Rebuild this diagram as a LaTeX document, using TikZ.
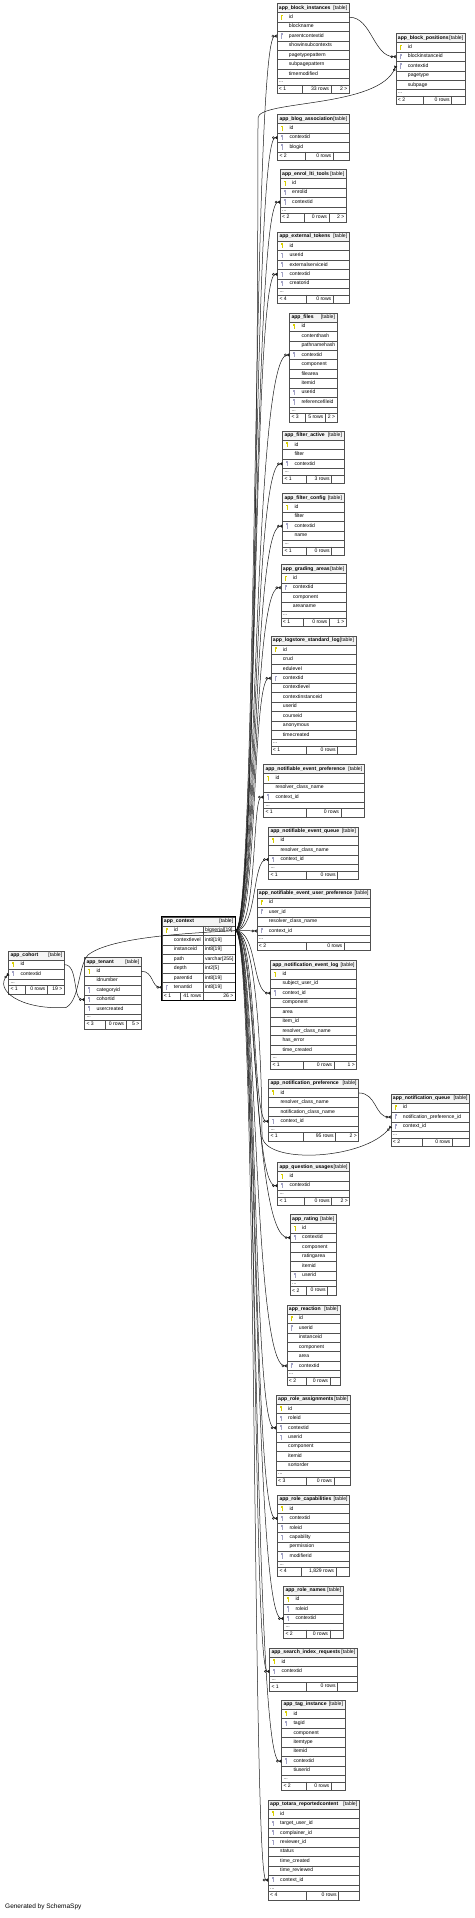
\documentclass[tikz,border=0pt]{standalone}
\usepackage{fontspec}
\setmainfont{Liberation Sans}
\usetikzlibrary{arrows.meta,positioning,calc}

\definecolor{dbLine}{HTML}{505050}
\definecolor{dbHead}{HTML}{F4F4F4}
\definecolor{dbPK}{HTML}{D9CF00}
\definecolor{dbFK}{HTML}{A3A3C6}
\definecolor{dbEdge}{HTML}{1A1A1A}

\newcommand\dbfont{\fontsize{5.1}{6}\selectfont}

\tikzset{
  dbcell/.style={draw=dbLine, line width=0.45pt, anchor=north west, inner xsep=2pt, inner ysep=0pt,
    minimum width=\dbw, font=\dbfont, text height=3.6pt, text depth=1.1pt},
  dbhead/.style={dbcell, fill=dbHead, minimum height=9pt},
  dbrow/.style={dbcell, fill=white, minimum height=9.44pt},
  dbmore/.style={dbcell, fill=white, minimum height=6.5pt, text height=2pt, text depth=0pt},
  dbfoot/.style={dbcell, fill=white, minimum height=8.5pt},
  dbsep/.style={draw=dbLine, line width=0.45pt},
  foottext/.style={font=\dbfont, inner sep=0pt, text height=3.6pt, text depth=1.1pt},
  keyfill/.style={}, keydraw/.style={},
  keyicon/.pic={\path[keyfill] (-0.95,-2.7) rectangle (0.95,-0.9); \path[keydraw] (0,-0.9) -- (0,2.4);},
  pk/.style={keyfill/.style={fill=dbPK}, keydraw/.style={draw=dbPK, line width=0.6pt}},
  fk/.style={keyfill/.style={fill=dbFK}, keydraw/.style={draw=dbFK, line width=0.6pt}},
  nk/.style={keyfill/.style={}, keydraw/.style={}},
  fkedge/.style={draw=dbEdge, line width=0.5pt,
    -{Circle[open,length=2.6pt,width=2.6pt] Triangle[reversed,length=2.6pt,width=3.2pt]}},
  ctxlink/.style={to path={.. controls +(22,0) and (\tikztotarget -| trunk) .. (\tikztotarget)}}
}

% one table: id, x, y, width, title, columns
\newcommand\dbtable[6]{%
  \def\dbid{#1}\def\dbx{#2}\def\dby{#3}\def\dbw{#4pt}%
  \node[dbhead] (#1) at (#2,#3) {\makebox[\dimexpr#4pt-4pt\relax][s]{\textbf{\detokenize{#5}}\hfill[table]}};
  \foreach \col/\kind [count=\row] in {#6} {
    \pgfmathsetmacro\ry{#3+9+(\row-1)*9.44}
    \node[dbrow] (#1-\col) at (#2,\ry) {\makebox[\dimexpr#4pt-4pt\relax][l]{\hspace{10pt}\detokenize\expandafter{\col}}};
    \pic[\kind] at ([xshift=5pt]#1-\col.west) {keyicon};
    \xdef\dbn{\row}
  }
}
% footer: dots?, divider 1, divider 2, three texts
\newcommand\dbfoot[6]{%
  \pgfmathsetmacro\fy{\dby+9+\dbn*9.44}%
  \ifnum#1=1
    \node[dbmore] (\dbid-more) at (\dbx,\fy) {\makebox[\dimexpr\dbw-4pt\relax][l]{...}};
    \pgfmathsetmacro\fy{\fy+6.5}%
  \fi
  \node[dbfoot] (\dbid-foot) at (\dbx,\fy) {};
  \draw[dbsep] (#2,\fy) -- ++(0,8.5) (#3,\fy) -- ++(0,8.5);
  \node[foottext, anchor=west] (\dbid-f1) at ([xshift=2pt]\dbid-foot.west) {#4};
  \node[foottext, anchor=east] (\dbid-f2) at (#3-1.8,\fy+4.25) {#5};
  \node[foottext, anchor=east] (\dbid-f3) at ([xshift=-1.8pt]\dbid-foot.east) {#6};
}

\begin{document}
\begin{tikzpicture}[x=1pt, y=-1pt]
  \fill[white] (0,0) rectangle (474,1918);
  \useasboundingbox (0,0) rectangle (474,1918);
  \coordinate (trunk) at (252,0);
  \coordinate (ctxsplit) at (203.3,0);

  % child tables
  \dbtable{bi}{276.7}{3.3}{72.3}{app_block_instances}{id/pk, blockname/nk, parentcontextid/fk, showinsubcontexts/nk, pagetypepattern/nk, subpagepattern/nk, timemodified/nk}
  \dbfoot{1}{302}{331}{< 1}{33 rows}{2 >}
  \dbtable{bp}{395.7}{33.3}{69.3}{app_block_positions}{id/pk, blockinstanceid/fk, contextid/fk, pagetype/nk, subpage/nk}
  \dbfoot{1}{423.3}{451.7}{< 2}{0 rows}{}
  \dbtable{ba}{277.3}{114.3}{71.7}{app_blog_association}{id/pk, contextid/fk, blogid/fk}
  \dbfoot{0}{305.7}{333.3}{< 2}{0 rows}{}
  \dbtable{elt}{280}{169.3}{66}{app_enrol_lti_tools}{id/pk, enrolid/fk, contextid/fk}
  \dbfoot{1}{304.3}{329}{< 2}{0 rows}{2 >}
  \dbtable{et}{277.3}{232}{71.7}{app_external_tokens}{id/pk, userid/fk, externalserviceid/fk, contextid/fk, creatorid/fk}
  \dbfoot{1}{306}{333.3}{< 4}{0 rows}{}
  \dbtable{fi}{289.3}{312.7}{47.4}{app_files}{id/pk, contenthash/nk, pathnamehash/nk, contextid/fk, component/nk, filearea/nk, itemid/nk, userid/fk, referencefileid/fk}
  \dbfoot{1}{305}{325.3}{< 3}{5 rows}{2 >}
  \dbtable{fa}{282.3}{431}{61.4}{app_filter_active}{id/pk, filter/nk, contextid/fk}
  \dbfoot{1}{306}{331.7}{< 1}{3 rows}{}
  \dbtable{fc}{282.3}{493.3}{61.4}{app_filter_config}{id/pk, filter/nk, contextid/fk, name/nk}
  \dbfoot{1}{306}{331.7}{< 1}{0 rows}{}
  \dbtable{ga}{280.7}{564.3}{65.3}{app_grading_areas}{id/pk, contextid/fk, component/nk, areaname/nk}
  \dbfoot{1}{303.3}{329.3}{< 1}{0 rows}{1 >}
  \dbtable{ls}{270.7}{636}{85}{app_logstore_standard_log}{id/pk, crud/nk, edulevel/nk, contextid/fk, contextlevel/nk, contextinstanceid/nk, userid/nk, courseid/nk, anonymous/nk, timecreated/nk}
  \dbfoot{1}{306}{337.7}{< 1}{0 rows}{}
  \dbtable{nep}{263.3}{764.3}{100.7}{app_notifiable_event_preference}{id/pk, resolver_class_name/nk, context_id/fk}
  \dbfoot{1}{306}{341}{< 1}{0 rows}{}
  \dbtable{neq}{268.3}{826.7}{89.4}{app_notifiable_event_queue}{id/pk, resolver_class_name/nk, context_id/fk}
  \dbfoot{1}{306}{337.7}{< 1}{0 rows}{}
  \dbtable{neu}{256.7}{888.7}{113.6}{app_notifiable_event_user_preference}{id/pk, user_id/fk, resolver_class_name/nk, context_id/fk}
  \dbfoot{1}{306.7}{344.3}{< 2}{0 rows}{}
  \dbtable{nel}{270.3}{960.3}{86}{app_notification_event_log}{id/pk, subject_user_id/nk, context_id/fk, component/nk, area/nk, item_id/nk, resolver_class_name/nk, has_error/nk, time_created/nk}
  \dbfoot{1}{303.3}{334}{< 1}{0 rows}{1 >}
  \dbtable{np}{268.3}{1079}{90}{app_notification_preference}{id/pk, resolver_class_name/nk, notification_class_name/nk, context_id/fk}
  \dbfoot{1}{303.3}{335.7}{< 1}{95 rows}{2 >}
  \dbtable{nq}{390.7}{1093.7}{78.6}{app_notification_queue}{id/pk, notification_preference_id/fk, context_id/fk}
  \dbfoot{1}{422.7}{452.3}{< 2}{0 rows}{}
  \dbtable{qu}{277.3}{1162.3}{72}{app_question_usages}{id/pk, contextid/fk}
  \dbfoot{1}{304}{331.7}{< 1}{0 rows}{2 >}
  \dbtable{ra}{290}{1214.3}{46}{app_rating}{id/pk, contextid/fk, component/nk, ratingarea/nk, itemid/nk, userid/fk}
  \dbfoot{1}{306}{327.7}{< 2}{0 rows}{}
  \dbtable{re}{286.7}{1304.7}{53.3}{app_reaction}{id/pk, userid/fk, instanceid/nk, component/nk, area/nk, contextid/fk}
  \dbfoot{1}{306}{330}{< 2}{0 rows}{}
  \dbtable{rasg}{276}{1395}{74}{app_role_assignments}{id/pk, roleid/fk, contextid/fk, userid/fk, component/nk, itemid/nk, sortorder/nk}
  \dbfoot{1}{306}{334}{< 3}{0 rows}{}
  \dbtable{rcap}{277.3}{1495}{72}{app_role_capabilities}{id/pk, contextid/fk, roleid/fk, capability/fk, permission/nk, modifierid/fk}
  \dbfoot{1}{301}{336}{< 4}{1,829 rows}{}
  \dbtable{rn}{283.3}{1585.7}{59.7}{app_role_names}{id/pk, roleid/fk, contextid/fk}
  \dbfoot{1}{306}{330}{< 2}{0 rows}{}
  \dbtable{sir}{269.3}{1648}{87.7}{app_search_index_requests}{id/pk, contextid/fk}
  \dbfoot{1}{306}{337.7}{< 1}{0 rows}{}
  \dbtable{ti}{281.3}{1700}{63.4}{app_tag_instance}{id/pk, tagid/fk, component/nk, itemtype/nk, itemid/nk, contextid/fk, tiuserid/nk}
  \dbfoot{1}{306}{331.3}{< 2}{0 rows}{}
  \dbtable{tr}{268}{1800}{91}{app_totara_reportedcontent}{id/pk, target_user_id/fk, complainer_id/fk, reviewer_id/fk, status/nk, time_created/nk, time_reviewed/nk, context_id/fk}
  \dbfoot{1}{306}{338.7}{< 4}{0 rows}{}

  % left side
  \dbtable{coh}{8.3}{950.7}{55.7}{app_cohort}{id/pk, contextid/fk}
  \dbfoot{1}{25.7}{47.3}{< 1}{0 rows}{19 >}
  \dbtable{ten}{84.3}{957.3}{56.7}{app_tenant}{id/pk, idnumber/nk, categoryid/fk, cohortid/fk, usercreated/fk}
  \dbfoot{1}{105.3}{126}{< 3}{0 rows}{5 >}

  % the focus table
  \dbtable{ctx}{161.7}{916.7}{73.3}{app_context}{id/pk, contextlevel/nk, instanceid/nk, path/nk, depth/nk, parentid/nk, tenantid/fk}
  \dbfoot{0}{180}{203.3}{< 1}{41 rows}{26 >}
  \foreach \col/\ty in {id/bigserial[19], contextlevel/int8[19], instanceid/int8[19], path/varchar[255], depth/int2[5], parentid/int8[19], tenantid/int8[19]}
    \node[foottext, anchor=west] (ctx-\col-type) at ($(ctx-\col.west -| ctxsplit)+(1.6,0)$) {\ty};
  \draw[dbsep] (ctx-id.north -| ctxsplit) -- (ctx-tenantid.south -| ctxsplit);
  \draw[line width=1.1pt] (ctx.north west) rectangle (ctx-foot.south east);

  % links out of app_context.id
  \foreach \tgt in {bi-parentcontextid, ba-contextid, elt-contextid, et-contextid, fi-contextid, fa-contextid,
      fc-contextid, ga-contextid, ls-contextid, nep-context_id, neq-context_id, neu-context_id, nel-context_id,
      np-context_id, qu-contextid, ra-contextid, re-contextid, rasg-contextid, rcap-contextid, rn-contextid,
      sir-contextid, ti-contextid, tr-context_id}
    \draw[fkedge] (ctx-id.east) to[ctxlink] (\tgt.west);
  \coordinate (bpvia) at (258,118);
  \draw[fkedge] (ctx-id.east) .. controls +(22,0) and +(0,60) .. (bpvia)
    .. controls +(0,-18) and +(-16,42) .. (bp-contextid.west);
  \coordinate (nqvia) at (262,1135);
  \draw[fkedge] (ctx-id.east) .. controls +(22,0) and +(0,-60) .. (nqvia)
    .. controls +(0,30) and +(-26,34) .. (nq-context_id.west);
  \coordinate (cohbend) at (88,955);
  \coordinate (cohloop) at (66,1007.5);
  \draw[fkedge] (ctx-id.east) .. controls (190,933) and (110,937) .. (cohbend)
    .. controls (78,966) and (80,1000) .. (cohloop)
    .. controls (20,1010) and (-6,990) .. (coh-contextid.west);

  % other links
  \draw[fkedge] (bi-id.east) .. controls +(22,0) and +(-22,0) .. (bp-blockinstanceid.west);
  \draw[fkedge] (np-id.east) .. controls +(18,0) and +(-16,0) .. (nq-notification_preference_id.west);
  \draw[fkedge] (ten-id.east) .. controls +(12,0) and +(-10,0) .. (ctx-tenantid.west);
  \draw[fkedge] (coh-id.east) .. controls +(14,0) and +(-12,0) .. (ten-cohortid.west);

  \node[anchor=west, inner sep=0pt, font=\fontsize{6.5}{8}\selectfont] (credit) at (5,1907) {Generated by SchemaSpy};
\end{tikzpicture}
\end{document}
